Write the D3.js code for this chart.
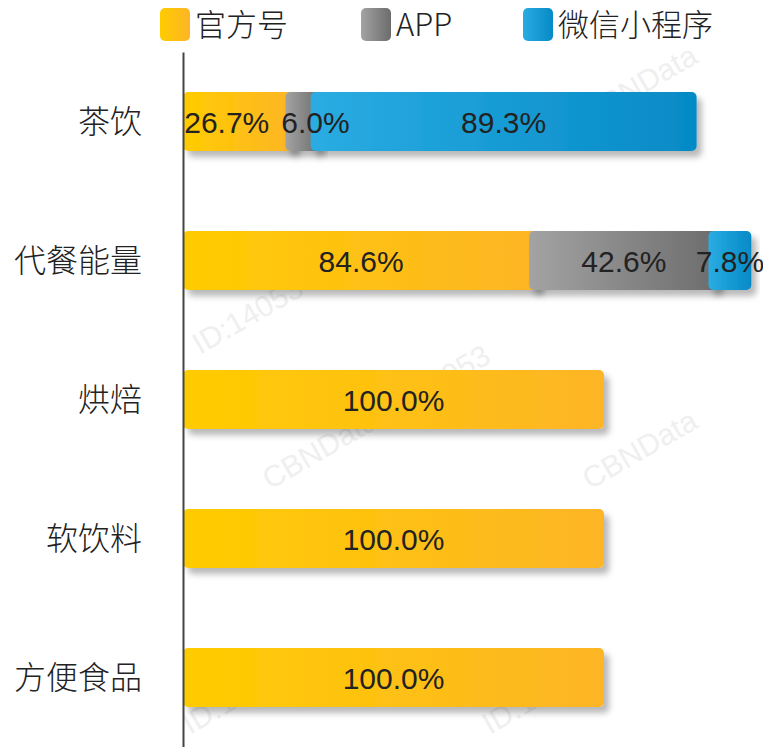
<!DOCTYPE html>
<html>
<head>
<meta charset="utf-8">
<script src="https://cdn.jsdelivr.net/npm/d3@7"></script>
<style>
  body { margin: 0; background: #fff; }
  svg { display: block; }
</style>
</head>
<body>
<div id="chart-area"></div>
<script>
// data
var categories = ["茶饮", "代餐能量", "烘焙", "软饮料", "方便食品"];
var seriesNames = ["官方号", "APP", "微信小程序"];
var official = [26.7, 84.6, 100.0, 100.0, 100.0];
var app = [6.0, 42.6, 0, 0, 0];
var miniProgram = [89.3, 7.8, 0, 0, 0];

var width = 763, height = 747;
var axisX = 183, overlap = 10;

var svg = d3.select("#chart-area")
    .append("svg")
    .attr("width", width)
    .attr("height", height);

var defs = svg.append("defs");

var gradStops = [
    ["#ffcc00", "#fdb526"],
    ["#a3a3a3", "#6c6c6c"],
    ["#2aace2", "#058ac6"]
];
gradStops.forEach(function(s, i) {
    var lg = defs.append("linearGradient")
        .attr("id", "grad" + i)
        .attr("x1", "0%").attr("x2", "100%")
        .attr("y1", "0%").attr("y2", "0%");
    lg.append("stop").attr("offset", "0%").attr("stop-color", s[0]);
    lg.append("stop").attr("offset", "100%").attr("stop-color", s[1]);
});

defs.append("filter")
    .attr("id", "shadow")
    .attr("x", "-10%").attr("y", "-30%")
    .attr("width", "130%").attr("height", "180%")
    .append("feDropShadow")
        .attr("dx", 5).attr("dy", 6)
        .attr("stdDeviation", 3)
        .attr("flood-color", "#000")
        .attr("flood-opacity", 0.28);

// watermark
var marks = [[270, 490, "CBNData ID:14053"], [590, 125, "CBNData"],
             [590, 490, "CBNData"], [200, 355, "ID:14053"], [190, 735, "ID:14053"], [490, 735, "ID:14053"]];
svg.append("g")
    .selectAll("text")
    .data(marks)
    .enter()
    .append("text")
    .attr("transform", function(d) { return "translate(" + d[0] + "," + d[1] + ") rotate(-30)"; })
    .attr("font-family", "Liberation Sans, Arial, sans-serif")
    .attr("font-size", "30px")
    .attr("fill", "#efefef")
    .text(function(d) { return d[2]; });

var x = d3.scaleLinear()
    .domain([0, 100])
    .range([axisX, 604]);

var y = d3.scaleBand()
    .domain(categories)
    .range([52, 747])
    .paddingInner(0.575)
    .paddingOuter(0.2875);

var table = categories.map(function(c, i) {
    return { name: c, "官方号": official[i], "APP": app[i], "微信小程序": miniProgram[i] };
});

var stacked = d3.stack().keys(seriesNames)(table);

function segStart(d, i) {
    return i > 0 ? x(d[0]) - overlap : x(d[0]);
}

// bars
var barG = svg.append("g");
var labels = [];
stacked.forEach(function(layer, li) {
    var segs = layer.filter(function(d) { return d[1] - d[0] > 0; });
    barG.append("g")
        .attr("fill", "url(#grad" + li + ")")
        .selectAll("rect")
        .data(segs)
        .enter()
        .append("rect")
        .attr("x", function(d) { return segStart(d, li); })
        .attr("y", function(d) { return y(d.data.name); })
        .attr("width", function(d) { return x(d[1]) - segStart(d, li); })
        .attr("height", y.bandwidth())
        .attr("rx", 5)
        .attr("filter", "url(#shadow)");
    segs.forEach(function(d) {
        labels.push({
            cat: d.data.name,
            cx: (segStart(d, li) + x(d[1])) / 2,
            text: (d[1] - d[0]).toFixed(1) + "%"
        });
    });
});

// data labels, drawn on top of all bars
var labelG = svg.append("g")
    .attr("font-family", "Liberation Sans, Arial, sans-serif")
    .attr("font-size", "30px")
    .attr("fill", "#222")
    .attr("text-anchor", "middle");

var labelTexts = labelG.selectAll("text")
    .data(labels)
    .enter()
    .append("text")
    .attr("x", function(d) { return d.cx; })
    .attr("y", function(d) { return y(d.cat) + y.bandwidth() / 2 + 11; })
    .text(function(d) { return d.text; });

// push overlapping labels apart within a row
labelTexts.each(function(d) { d.w = this.getComputedTextLength(); });
categories.forEach(function(c) {
    var row = labels.filter(function(d) { return d.cat === c; });
    for (var i = 1; i < row.length; i++) {
        var a = row[i - 1], b = row[i];
        var need = (a.w + b.w) / 2 + 12 - (b.cx - a.cx);
        if (need > 0) {
            a.cx -= need / 2;
            b.cx += need / 2;
        }
    }
});
labelTexts.attr("x", function(d) { return d.cx; });

// axis
var yAxisCall = d3.axisLeft(y).tickSize(0).tickPadding(41);
var axisG = svg.append("g")
    .attr("class", "y-axis")
    .attr("transform", "translate(" + axisX + ",0)")
    .call(yAxisCall);
axisG.select(".domain")
    .attr("stroke", "#444")
    .attr("stroke-width", 2);
axisG.selectAll("text")
    .attr("font-family", "Noto Sans CJK SC, sans-serif")
    .attr("font-weight", 300)
    .attr("font-size", "32px")
    .attr("fill", "#222")
    .attr("dy", "0.35em");

// legend
var legendX = [160, 361, 523];
var legend = svg.append("g")
    .selectAll("g")
    .data(seriesNames)
    .enter()
    .append("g")
    .attr("transform", function(d, i) { return "translate(" + legendX[i] + ",8)"; });
legend.append("rect")
    .attr("width", 30)
    .attr("height", 33)
    .attr("rx", 5)
    .attr("fill", function(d, i) { return "url(#grad" + i + ")"; });
legend.append("text")
    .attr("x", 35)
    .attr("y", 28)
    .attr("font-family", "Noto Sans CJK SC, sans-serif")
    .attr("font-weight", 300)
    .attr("font-size", "31px")
    .attr("fill", "#222")
    .text(function(d) { return d; });
</script>
</body>
</html>
